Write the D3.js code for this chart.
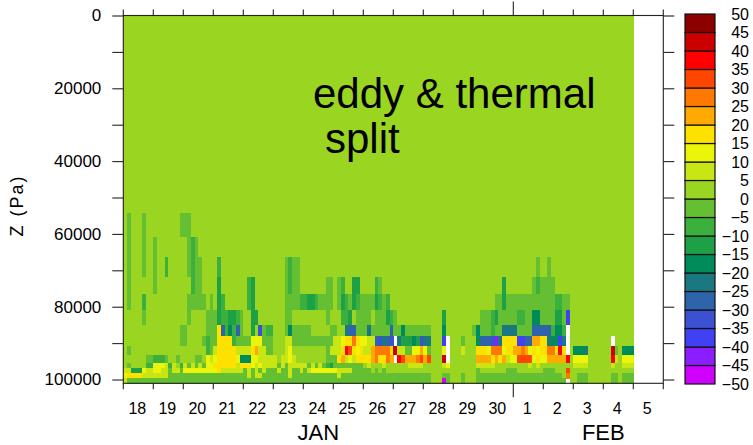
<!DOCTYPE html>
<html>
  <head>
    <script src="https://d3js.org/d3.v7.min.js"></script>
    <style>
      body { margin: 0; background: #fff; }
      text { font-family: 'Liberation Sans', Arial, sans-serif; fill: #000; }
    </style>
  </head>
  <body>
    <div id="chart"></div>
    <script>
      // pressure layer edges (Pa), top to bottom
      const levelEdges = [0, 54260, 60850, 66350, 71840, 76510, 80910, 85030, 88050,
                          90800, 93270, 95330, 96920, 98300, 99670, 101040];

      // one row per layer, 3-hourly columns, one group of 8 per day (Jan 18 .. Feb 4)
      // codes: 0..9 -> 0-5 .. 45-50, a..j -> -5-0 .. -50--45, x -> missing
      const layerRows = [
        '00000000 00000000 00000000 00000000 00000000 00000000 00000000 00000000 00000000 00000000 00000000 00000000 00000000 00000000 00000000 00000000 00000000',
        '0a000a00 0000000a aa000000 00000000 00000000 00000000 00000000 00000000 00000000 00000000 00000000 00000000 00000000 00000000 00000000 00000000 00000000',
        '0a000a00 a0000000 0aba0000 00000000 00000000 00000000 00000000 00000000 00000000 00000000 00000000 00000000 00000000 00000000 00000000 00000000 00000000',
        '0a000a00 a00b0000 0abaa000 0b000000 00000000 000abaa0 00000000 00000000 00000000 00000000 00000000 00000000 00000000 000000a0 0a000000 00000000 00000000',
        '0a000000 a0000000 00baa000 0c000000 0bc00000 000abaa0 000000aa 0ab00cc0 000ba000 00000000 00000000 00000000 00000c00 00000aba aaa00000 00000000 00000000',
        '0a000b00 00000000 0aaaaa0a 0cb00000 0bc00000 000aaaab bccbaaaa 0acbacba aaacbab0 00000000 00000000 00000000 000aacaa aaaaaaaa aaabbaa0 00000000 00000000',
        '00000a00 00000000 0a0000aa acbbccba 00cc0000 000aa000 000000a0 00bbc0aa aa0aaacb a0000000 00000c00 0000000a aabcaaaa abbaadda aaaccah0 00000000 00000000',
        '00000000 0000000a a00000aa a3fbdbfa 00c0gabb 000adaaa aa00000a a00effaa aeaaaaaf aadaaaaa aa000d00 00000ada aabaaeee eaaaafff ffbddbx0 00000000 00000000',
        '00000000 0000000a a0000aba a3333baa aa222aaa 00011aaa aaaaaaaa 11233532 211fgefg xecccdcg ee000hx0 00a000df ffgie333 3hhff443 3eddhex0 00000000 00x00000',
        '0a000000 00000000 000000ba 13333311 113411aa 00012000 000000a1 11376323 11455553 811aa224 2a0002x0 00100033 32555233 44542323 355373x0 ddde0000 008a0ddd',
        '000000aa bbba00a0 000aa021 2333332d dd221111 10112100 000000aa a3412133 33453354 x7644456 460008x0 00000044 44343412 26666232 24444470 22220000 00710222',
        '0a0000bb 2221b10b 1a1a1a22 33333313 33212111 1a1a1111 1a1a1abc aaaaaaaa 01000100 00001111 00000120 00000011 11100000 00001010 00000000 11110000 00100111',
        '11ccc211 2211a11a 22222222 23111111 a1a1a1aa a1aa1aa1 a1222222 21111aaa aa0a0a00 00000000 00000000 000000a0 000000aa a0000000 aaa00060 00000000 00000000',
        '23333111 1111aaaa aaaaaaaa aaaaaaaa a1a11aaa aaaa1aaa aaaaaaaa a1aaaaaa aaaaaaaa aaaaaaaa aa000aa0 00a000aa aaaaaaaa aaaaaaaa aaaaa050 0aaa0000 00aa0aaa',
        '1aaaaaaa aaaaaaaa aaaaaaaa aaaaaaaa aaaaaaaa aaaaaaaa aaaaaaaa aaaaaaaa aaaaaaaa aaaaaaaa aa000ja0 00a000aa aaaaaaaa aaaaaaaa aaaaaax0 0aaa0000 00aa0aaa'
      ];

      const codeValues = {
        j: -47.5, i: -42.5, h: -37.5, g: -32.5, f: -27.5, e: -22.5, d: -17.5, c: -12.5, b: -7.5, a: -2.5,
        '0': 2.5, '1': 7.5, '2': 12.5, '3': 17.5, '4': 22.5, '5': 27.5, '6': 32.5, '7': 37.5, '8': 42.5, '9': 47.5,
        x: null
      };

      const contourLevels = [-45, -40, -35, -30, -25, -20, -15, -10, -5, 0, 5, 10, 15, 20, 25, 30, 35, 40, 45];
      const fillColors = ['#d000ff', '#8a1eff', '#4040f5', '#3c50d2', '#2d64aa', '#1a7880', '#008c5a',
                          '#1ea046', '#3cb03c', '#64c032', '#99d521', '#c8e614', '#ebf50a', '#ffe100',
                          '#ffaa00', '#ff7800', '#ff4600', '#ff0000', '#cd0000', '#8c0000'];
      const barLabels = ['50', '45', '40', '35', '30', '25', '20', '15', '10', '5', '0',
                         '\u22125', '\u221210', '\u221215', '\u221220', '\u221225', '\u221230',
                         '\u221235', '\u221240', '\u221245', '\u221250'];

      const dayLabels = ['18', '19', '20', '21', '22', '23', '24', '25', '26', '27', '28', '29', '30',
                         '1', '2', '3', '4', '5'];
      const monthLabels = [{ name: 'JAN', at: 6.5 }, { name: 'FEB', at: 16 }];
      const monthBreak = 13;
      const stepsPerDay = 8;

      const plotLeft = 123.3, plotRight = 663.3, plotTop = 15.5, plotBottom = 383.3;

      const svg = d3.select('#chart').append('svg')
        .attr('width', 753).attr('height', 445);

      const x = d3.scaleLinear().domain([0, dayLabels.length]).range([plotLeft, plotRight]);
      const y = d3.scaleLinear().domain([0, 101040]).range([plotTop, plotBottom]);
      const color = d3.scaleThreshold().domain(contourLevels).range(fillColors);

      // cells
      const cells = [];
      layerRows.forEach((row, i) => {
        row.replace(/ /g, '').split('').forEach((c, j) => {
          cells.push({ layer: i, col: j, value: codeValues[c] });
        });
      });

      svg.append('g')
        .attr('shape-rendering', 'crispEdges')
        .selectAll('rect')
        .data(cells.filter(d => d.value !== null))
        .join('rect')
        .attr('x', d => x(d.col / stepsPerDay))
        .attr('width', d => x((d.col + 1) / stepsPerDay) - x(d.col / stepsPerDay) + 0.3)
        .attr('y', d => y(levelEdges[d.layer]))
        .attr('height', d => y(levelEdges[d.layer + 1]) - y(levelEdges[d.layer]) + 0.3)
        .attr('fill', d => color(d.value));

      // frame
      svg.append('rect')
        .attr('x', plotLeft).attr('y', plotTop)
        .attr('width', plotRight - plotLeft).attr('height', plotBottom - plotTop)
        .attr('fill', 'none').attr('stroke', '#222').attr('stroke-width', 1.1);

      // y axes
      const yTicks = d3.range(0, 100001, 10000);
      const yAxis = d3.axisLeft(y).tickValues(yTicks).tickSize(11).tickPadding(11)
        .tickFormat(d => d % 20000 === 0 ? d : '');
      const gy = svg.append('g').attr('transform', `translate(${plotLeft},0)`).call(yAxis);
      gy.select('.domain').remove();
      gy.selectAll('text').style('font-size', '17px');
      gy.selectAll('line').attr('stroke-width', 1.1).attr('stroke', '#222');

      const gyr = svg.append('g').attr('transform', `translate(${plotRight},0)`)
        .call(d3.axisRight(y).tickValues(yTicks).tickSize(11).tickFormat(''));
      gyr.select('.domain').remove();
      gyr.selectAll('line').attr('stroke-width', 1.1).attr('stroke', '#222');

      // x axes
      const xTicks = d3.range(0, dayLabels.length + 1);
      [[plotBottom, 1], [plotTop, -1]].forEach(([yy, dir]) => {
        svg.append('g').selectAll('line')
          .data(xTicks)
          .join('line')
          .attr('x1', d => x(d)).attr('x2', d => x(d))
          .attr('y1', yy)
          .attr('y2', d => yy + dir * (d === monthBreak ? 14 : 6))
          .attr('stroke', '#222').attr('stroke-width', 1.1);
      });

      svg.append('g').selectAll('text')
        .data(dayLabels)
        .join('text')
        .attr('x', (d, i) => x(i + 0.5) - 1)
        .attr('y', 414)
        .attr('text-anchor', 'middle')
        .style('font-size', '16px')
        .text(d => d);

      svg.append('g').selectAll('text')
        .data(monthLabels)
        .join('text')
        .attr('x', d => x(d.at))
        .attr('y', 440)
        .attr('text-anchor', 'middle')
        .style('font-size', '22px')
        .text(d => d.name);

      svg.append('text')
        .attr('transform', `translate(23,${(plotTop + plotBottom) / 2 + 6}) rotate(-90)`)
        .attr('text-anchor', 'middle')
        .style('font-size', '18px')
        .style('letter-spacing', '2px')
        .text('Z (Pa)');

      // annotation
      const note = svg.append('text').style('font-size', '42px');
      note.append('tspan').attr('x', 313).attr('y', 108).text('eddy & thermal');
      note.append('tspan').attr('x', 325).attr('y', 153).text('split');

      // colour bar
      const barX = 685, barW = 30;
      const barY = d3.scaleLinear().domain([-50, 50]).range([384, 14]);
      const bins = fillColors.map((c, i) => ({ lo: -50 + 5 * i, hi: -45 + 5 * i, c }));
      svg.append('g').selectAll('rect')
        .data(bins)
        .join('rect')
        .attr('x', barX).attr('width', barW)
        .attr('y', d => barY(d.hi))
        .attr('height', d => barY(d.lo) - barY(d.hi))
        .attr('fill', d => d.c)
        .attr('stroke', '#111').attr('stroke-width', 1.2);

      svg.append('g').selectAll('text')
        .data(barLabels)
        .join('text')
        .attr('x', 749)
        .attr('y', (d, i) => barY(50 - 5 * i) + 5.5)
        .attr('text-anchor', 'end')
        .style('font-size', '16px')
        .text(d => d);
    </script>
  </body>
</html>
